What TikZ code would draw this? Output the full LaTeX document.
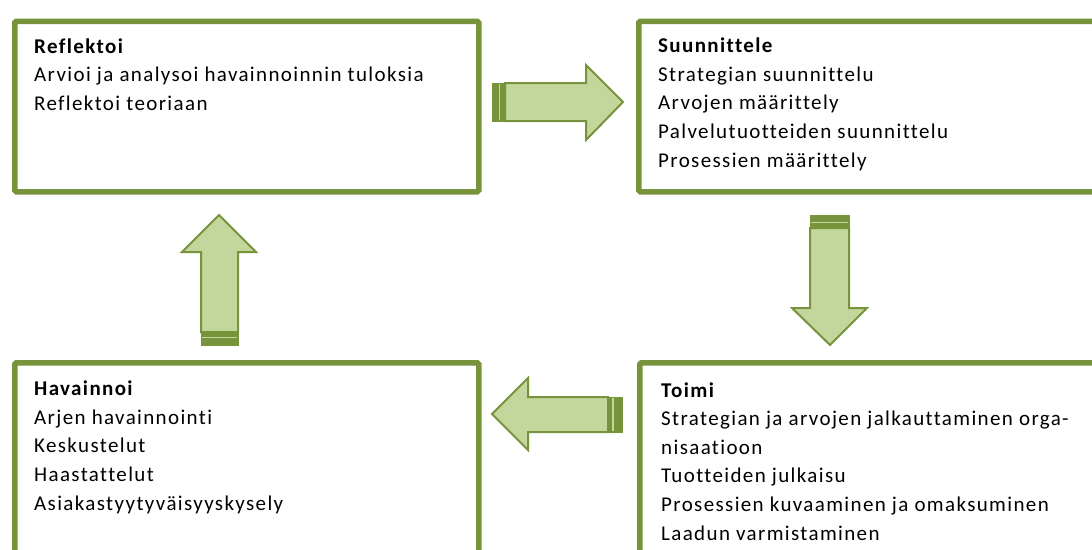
\documentclass[tikz,border=0pt]{standalone}
\usepackage{fontspec}
\setmainfont{Carlito}[Ligatures=NoCommon, LetterSpace=6.5]
\definecolor{olive}{HTML}{77933C}
\definecolor{lightolive}{HTML}{C3D69B}
\begin{document}
\begin{tikzpicture}[x=1pt,y=-1pt,
  box/.style={draw=olive, line width=5.5pt, rounded corners=1.5pt, fill=white, inner sep=0pt, anchor=north west},
  txt/.style={align=left, inner sep=0pt, anchor=base west, text=black, font=\fontsize{21}{28.6}\selectfont},
  arrowbody/.style={fill=lightolive, draw=olive, line width=2pt, line join=miter},
  stripe/.style={fill=olive, draw=olive, line width=1pt},
  lightline/.style={draw=lightolive, line width=1.6pt}]
\useasboundingbox (0,0) rectangle (1092,549);
\clip (0,0) rectangle (1092,549);
% boxes
\node[box, minimum width=464pt, minimum height=170.5pt] (refl) at (12,18.5) {};
\node[box, minimum width=480pt, minimum height=170.5pt] (plan) at (636,18.5) {};
\node[box, minimum width=464pt, minimum height=210pt] (obs) at (12,360) {};
\node[box, minimum width=480pt, minimum height=210pt] (act) at (637,360) {};
% texts (anchor = baseline of the last line)
\node[txt] (trefl) at (34,110.5) {\textbf{Reflektoi}\\Arvioi ja analysoi havainnoinnin tuloksia\\Reflektoi teoriaan};
\node[txt] (tplan) at (658,167) {\textbf{Suunnittele}\\Strategian suunnittelu\\Arvojen määrittely\\Palvelutuotteiden suunnittelu\\Prosessien määrittely};
\node[txt] (tobs) at (34,510) {\textbf{Havainnoi}\\Arjen havainnointi\\Keskustelut\\Haastattelut\\Asiakastyytyväisyyskysely};
\node[txt] (tact) at (661,540) {\textbf{Toimi}\\Strategian ja arvojen jalkauttaminen orga-\\nisaatioon\\Tuotteiden julkaisu\\Prosessien kuvaaminen ja omaksuminen\\Laadun varmistaminen};
% right arrow (refl -> plan)
\draw[arrowbody] (505,83) -- (586,83) -- (586,65) -- (623,102) -- (586,140) -- (586,121) -- (505,121) -- cycle;
\draw[stripe] (492,83) rectangle (505,121);
\draw[lightline] (499.5,84) -- (499.5,120);
% down arrow (plan -> act)
\draw[arrowbody] (810,228) -- (849,228) -- (849,308) -- (867,308) -- (830,345) -- (792,308) -- (810,308) -- cycle;
\draw[stripe] (810,215) rectangle (849,228);
\draw[lightline] (811,222.5) -- (848,222.5);
% left arrow (act -> obs)
\draw[arrowbody] (608,397) -- (528,397) -- (528,378) -- (492,414) -- (528,450) -- (528,432) -- (608,432) -- cycle;
\draw[stripe] (608,397) rectangle (622,432);
\draw[lightline] (613,398) -- (613,431);
% up arrow (obs -> refl)
\draw[arrowbody] (201,332) -- (201,252) -- (182,252) -- (219,215) -- (256,252) -- (238,252) -- (238,332) -- cycle;
\draw[stripe] (201,332) rectangle (238,345);
\draw[lightline] (202,337.5) -- (237,337.5);
\end{tikzpicture}
\end{document}
